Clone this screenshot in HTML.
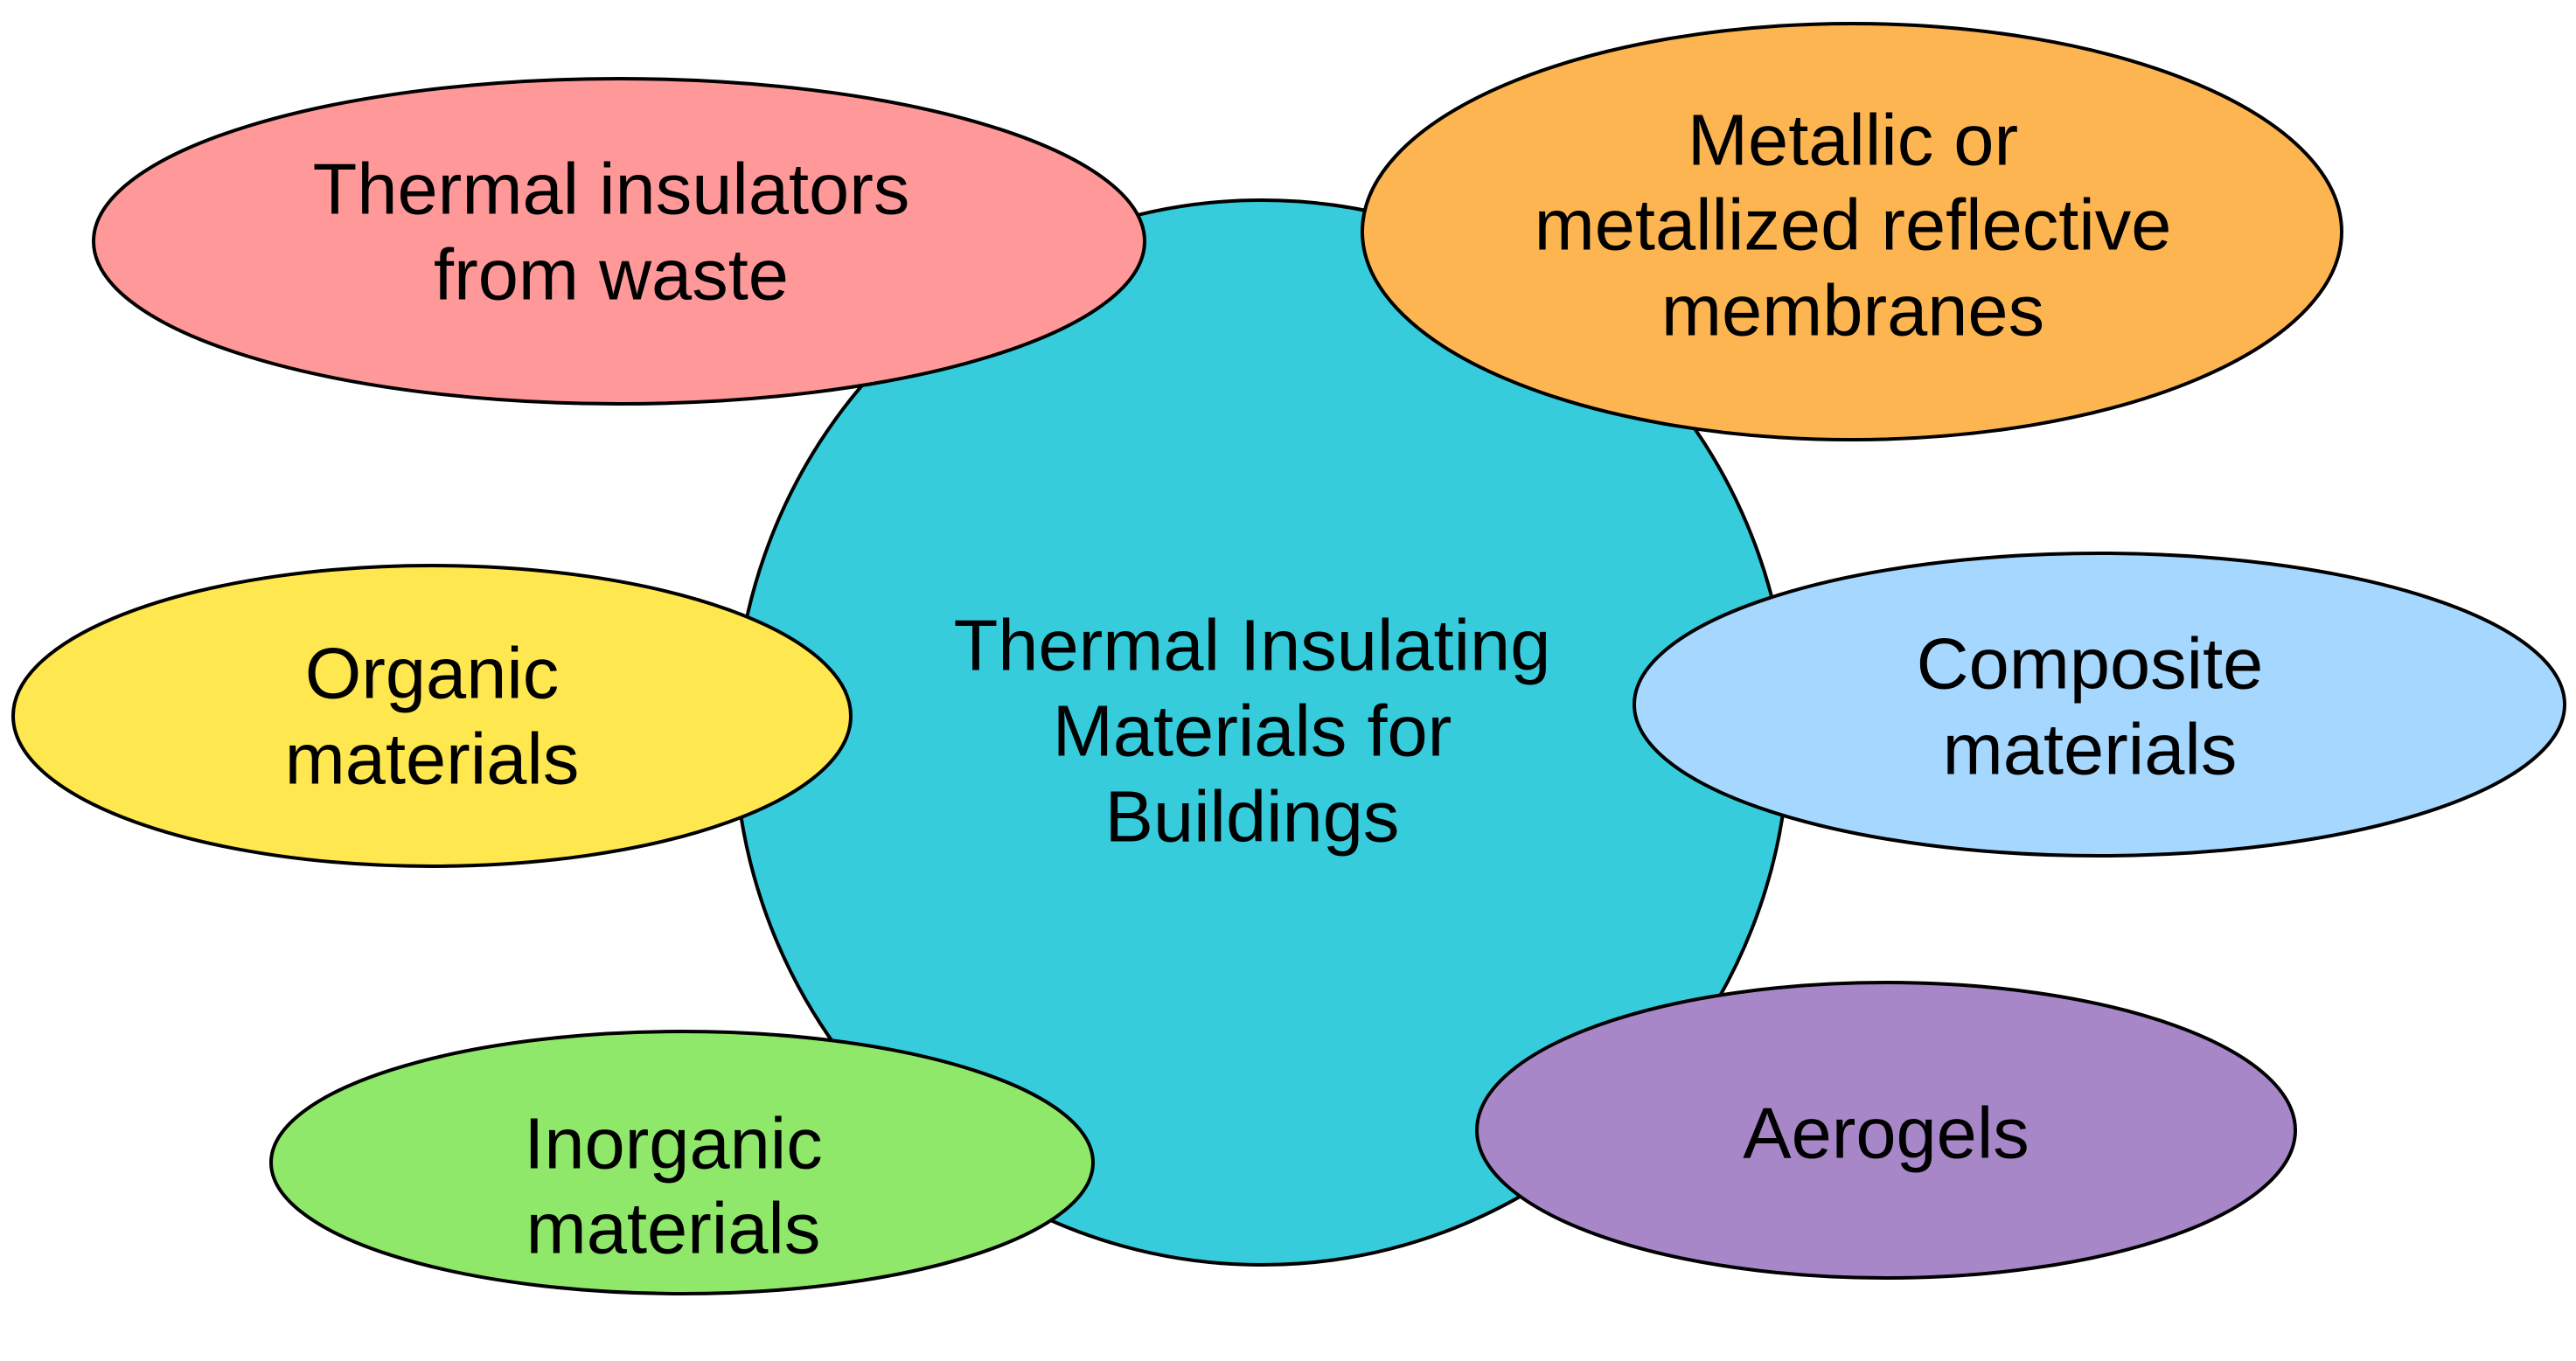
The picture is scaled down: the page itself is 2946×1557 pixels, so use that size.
<!DOCTYPE html>
<html><head><meta charset="utf-8"><style>html,body{margin:0;padding:0;background:#fff}svg{display:block}</style></head>
<body>
<svg width="2946" height="1557" viewBox="0 0 2946 1557" xmlns="http://www.w3.org/2000/svg">
<g stroke="#000" stroke-width="4">
<ellipse cx="1443" cy="838" rx="603" ry="609" fill="#36CCDC"/>
<ellipse cx="708" cy="276" rx="601" ry="186" fill="#FF9999"/>
<ellipse cx="2118" cy="265" rx="560" ry="238" fill="#FDB552"/>
<ellipse cx="494" cy="819" rx="479" ry="172" fill="#FFE74F"/>
<ellipse cx="2401" cy="806" rx="532" ry="173" fill="#A6D8FF"/>
<ellipse cx="780" cy="1330" rx="470" ry="150" fill="#8FE86A"/>
<ellipse cx="2157" cy="1293" rx="468" ry="169" fill="#A787C8"/>
</g>
<g font-family="Liberation Sans, Arial, sans-serif" font-size="83" fill="#000" text-anchor="middle" dominant-baseline="central">
<text x="699" y="216">Thermal insulators</text>
<text x="699" y="314">from waste</text>
<text x="2119" y="160">Metallic or</text>
<text x="2119" y="257">metallized reflective</text>
<text x="2119" y="355">membranes</text>
<text x="1432" y="738">Thermal Insulating</text>
<text x="1432" y="836">Materials for</text>
<text x="1432" y="934">Buildings</text>
<text x="494" y="770">Organic</text>
<text x="494" y="868">materials</text>
<text x="2390" y="759">Composite</text>
<text x="2390" y="857">materials</text>
<text x="770" y="1308">Inorganic</text>
<text x="770" y="1405">materials</text>
<text x="2157" y="1296">Aerogels</text>
</g>
</svg>
</body></html>
